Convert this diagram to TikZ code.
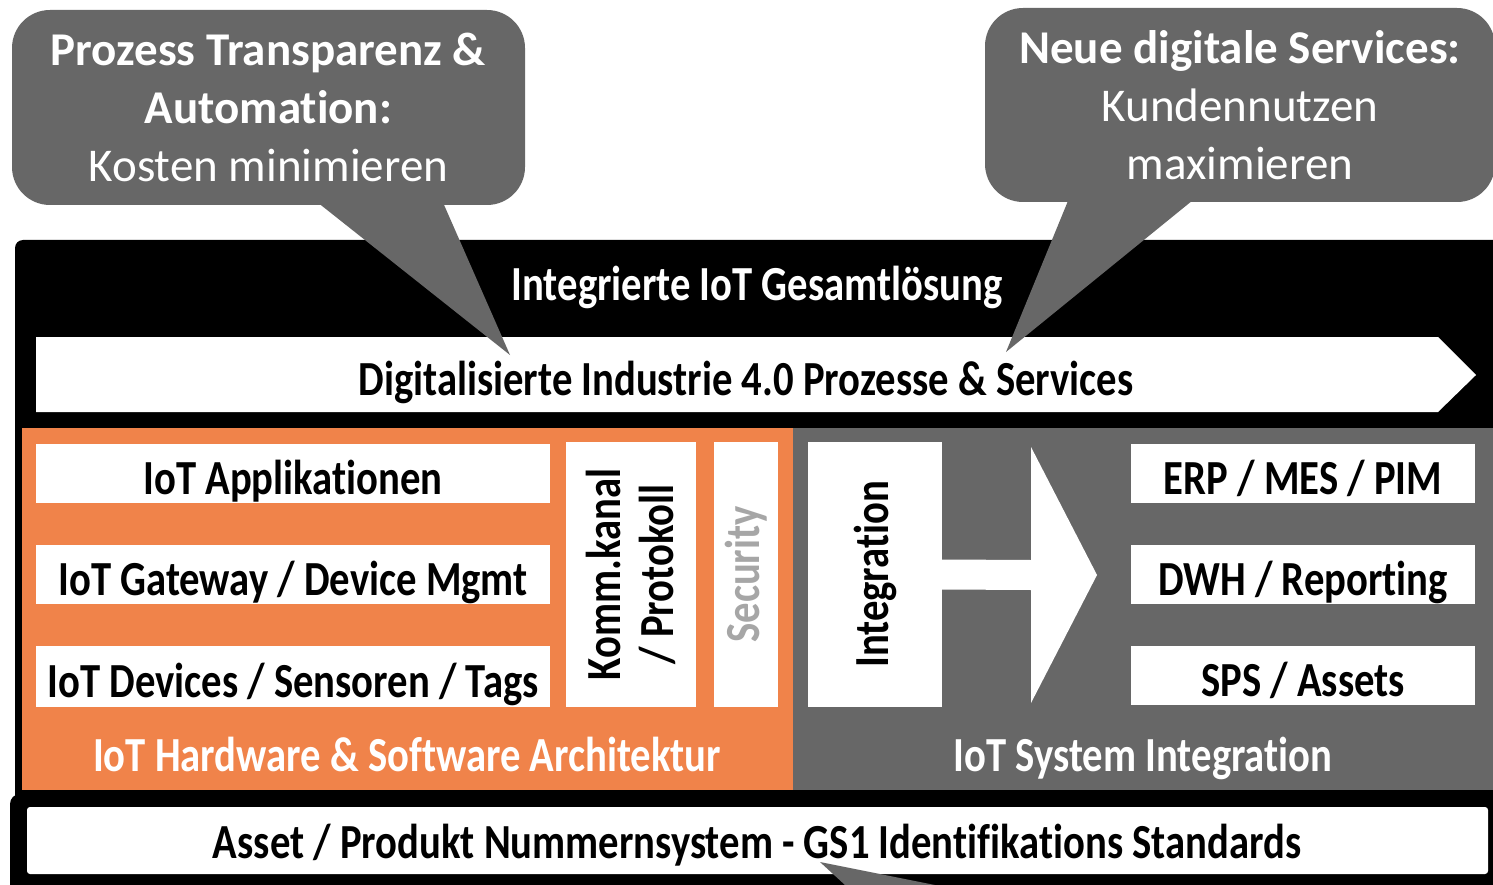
\documentclass[tikz,border=0pt]{standalone}
\usepackage{fontspec}
\setmainfont[Ligatures=NoCommon]{Carlito}
\newfontfamily\condf[FakeStretch=0.83,Ligatures=NoCommon]{Carlito}
\usetikzlibrary{calc}
\definecolor{cgray}{HTML}{676767}
\definecolor{corange}{HTML}{F0834A}
\definecolor{csec}{HTML}{A6A6A6}
\begin{document}
\begin{tikzpicture}[x=1pt,y=-1pt,
  lbl/.style={font=\condf\bfseries\fontsize{49}{53}\selectfont},
  wbox/.style={fill=white, draw=none, inner sep=0pt, text height=41pt, text depth=0pt, lbl},
  vbox/.style={fill=white, draw=none, inner sep=0pt, lbl, rotate=90, align=center},
  callout/.style={fill=cgray, draw=none, rounded corners=38pt, inner sep=0pt, text=white, align=center,
    font=\fontsize{47}{58}\selectfont},
  tail/.style={fill=cgray, draw=none}]
\useasboundingbox (0,0) rectangle (1493,885);
\clip (0,0) rectangle (1493,885);
% main black box
\fill[black, rounded corners=8pt] (15,240) -- (1520,240) -- (1520,805) -- (15,805) -- cycle;
\node[lbl, text=white, anchor=base] (title) at (757,301) {Integrierte IoT Gesamtlösung};
% white process band
\fill[white] (36,337) -- (1438,337) -- (1476,375) -- (1438,412) -- (36,412) -- cycle;
\node[lbl, anchor=base] (band) at (746,395) {Digitalisierte Industrie 4.0 Prozesse \& Services};
% orange and gray regions
\fill[corange] (22,428) rectangle (793,790);
\fill[cgray] (793,428) rectangle (1520,790);
% left boxes
\node[wbox, minimum width=514pt, minimum height=59pt] (app) at (293,473.5) {IoT Applikationen};
\node[wbox, minimum width=514pt, minimum height=59pt] (gw) at (293,574.5) {IoT Gateway / Device Mgmt};
\node[wbox, minimum width=514pt, minimum height=61pt] (dev) at (293,676.5) {IoT Devices / Sensoren / Tags};
\node[vbox, minimum width=265pt, minimum height=130pt] (komm) at (631,574.5) {Komm.kanal\\/ Protokoll};
\node[vbox, minimum width=265pt, minimum height=64pt, text=csec] (sec) at (746,574.5) {Security};
\node[lbl, text=white, anchor=base] (hw) at (407,771) {IoT Hardware \& Software Architektur};
% right side
\node[vbox, minimum width=265pt, minimum height=134pt] (integ) at (875,574.5) {Integration};
\coordinate (a1) at ($(integ.south)+(0,-15)$);
\coordinate (a2) at ($(integ.south)+(0,15)$);
\fill[white] (a1) -- (1031,560) -- (1031,447) -- (1097,575) -- (1031,703) -- (1031,590) -- (a2) -- cycle;
\node[wbox, minimum width=344pt, minimum height=59pt] (erp) at (1303,473.5) {ERP / MES / PIM};
\node[wbox, minimum width=344pt, minimum height=59pt] (dwh) at (1303,574.5) {DWH / Reporting};
\node[wbox, minimum width=344pt, minimum height=59pt] (sps) at (1303,675.5) {SPS / Assets};
\node[lbl, text=white, anchor=base] (sysint) at (1143,771) {IoT System Integration};
% bottom bar
\fill[black, rounded corners=10pt] (10,794) rectangle (1520,900);
\fill[white, rounded corners=3pt] (27,807) rectangle (1488,874);
\node[lbl, anchor=base] (gs1) at (757,858) {Asset / Produkt Nummernsystem - GS1 Identifikations Standards};
\fill[cgray] (820,862) -- (845,885) -- (935,885) -- cycle;
% callouts
\node[callout, minimum width=513pt, minimum height=195pt] (c1) at (268.5,107.5)
  {\textbf{Prozess Transparenz \&}\\\textbf{Automation:}\\Kosten minimieren};
\node[callout, minimum width=510pt, minimum height=194pt] (c2) at (1240,105)
  {\textbf{Neue digitale Services:}\\Kundennutzen\\maximieren};
\coordinate (t1) at (510,355);
\coordinate (t2) at (1006,352);
\fill[tail] (312,198) -- (441,198) -- (t1) -- cycle;
\fill[tail] (1070,196) -- (1198,196) -- (t2) -- cycle;
\end{tikzpicture}
\end{document}
